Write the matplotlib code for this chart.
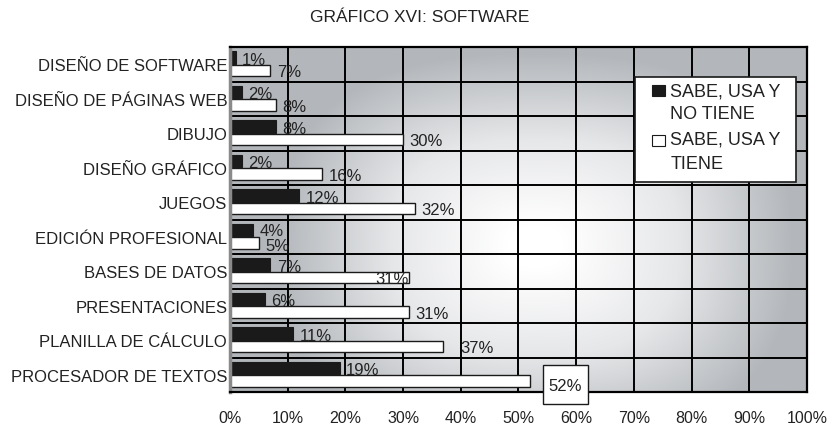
import numpy as np
import matplotlib
matplotlib.use("Agg")
import matplotlib.pyplot as plt
from matplotlib.colors import LinearSegmentedColormap
from matplotlib.patches import Rectangle

plt.rcParams['font.family'] = ['Liberation Sans', 'DejaVu Sans']

title = "GRÁFICO XVI: SOFTWARE"
categories = ["DISEÑO DE SOFTWARE", "DISEÑO DE PÁGINAS WEB", "DIBUJO", "DISEÑO GRÁFICO",
              "JUEGOS", "EDICIÓN PROFESIONAL", "BASES DE DATOS", "PRESENTACIONES",
              "PLANILLA DE CÁLCULO", "PROCESADOR DE TEXTOS"]
no_tiene = [1, 2, 8, 2, 12, 4, 7, 6, 11, 19]
tiene = [7, 8, 30, 16, 32, 5, 31, 31, 37, 52]
series_names = [["SABE, USA Y", "NO TIENE"], ["SABE, USA Y", "TIENE"]]
xticks = list(range(0, 101, 10))
xticklabels = [f"{v}%" for v in xticks]

W, H = 831, 427
fig = plt.figure(figsize=(W / 100, H / 100), dpi=100)
ax = fig.add_axes([230 / W, 1 - 393 / H, (807 - 230) / W, (393 - 48) / H])

n = len(categories)
y = np.arange(n)

# background gradient
gx = np.linspace(0, 100, 400)
gy = np.linspace(-0.5, n - 0.5, 300)
GX, GY = np.meshgrid(gx, gy)
dx = np.abs(GX - 53) / 50.0
dy = np.abs(GY - 5.3) / 6.3
p = 2.6
t = np.clip((dx ** p + dy ** p) ** (1 / p), 0, 1)
t = np.clip(t * 1.25 - 0.12, 0, 1)
cmap = LinearSegmentedColormap.from_list("bg", ["#ffffff", "#e6e7e9", "#b3b7bb"])
ax.imshow(t, extent=[0, 100, n - 0.5, -0.5], aspect='auto', cmap=cmap,
          vmin=0, vmax=1, zorder=0, interpolation='bilinear')

# grid
for xv in xticks:
    ax.axvline(xv, color='black', lw=1.4, zorder=1)
for k in range(n + 1):
    ax.axhline(k - 0.5, color='black', lw=1.4, zorder=1)

bh = 0.36
ax.barh(y - 0.2, no_tiene, height=bh, color='#1a1a1a', edgecolor='#1a1a1a', lw=0.8, zorder=2)
ax.barh(y + 0.18, tiene, height=bh * 0.92, color='white', edgecolor='#1a1a1a', lw=1.0, zorder=2)

fs = 12
tc = '#222222'
for i, v in enumerate(no_tiene):
    dyl = -0.18 if i == 5 else -0.15
    ax.text(v + 1.1, i + dyl, f"{v}%", ha='left', va='center', fontsize=fs, color=tc, zorder=3)
special = {6: dict(dx=-0.1, ha='right'), 8: dict(dx=3.0, ha='left')}
for i, v in enumerate(tiene):
    if i == n - 1:
        ax.add_patch(Rectangle((v + 2.2, i - 0.27), 7.8, 1.12, facecolor='white',
                               edgecolor='#1a1a1a', lw=1.0, zorder=4, clip_on=False))
        ax.text(v + 6.1, i + 0.30, f"{v}%", ha='center', va='center', fontsize=fs, color=tc,
                zorder=5, clip_on=False)
        continue
    s = special.get(i, dict(dx=1.1, ha='left'))
    dyl = 0.25 if i == 5 else 0.22
    ax.text(v + s['dx'], i + dyl, f"{v}%", ha=s['ha'], va='center', fontsize=fs, color=tc, zorder=3)

ax.set_xlim(0, 100)
ax.set_ylim(n - 0.5, -0.5)
ax.set_yticks(y)
ax.set_yticklabels(categories, fontsize=fs, color=tc)
ax.set_xticks(xticks)
ax.set_xticklabels(xticklabels, fontsize=11.5, color=tc)
ax.tick_params(axis='both', length=0)
ax.tick_params(axis='x', pad=13)
ax.tick_params(axis='y', pad=2)
for s in ['top', 'right', 'bottom']:
    ax.spines[s].set_color('black')
    ax.spines[s].set_linewidth(1.6)
ax.spines['left'].set_color('#8a8a8a')
ax.spines['left'].set_linewidth(2.5)

# legend box
ax.add_patch(Rectangle((70.2, 0.37), 27.9, 3.04, facecolor='white', edgecolor='#1a1a1a',
                       lw=1.2, zorder=5))
ax.add_patch(Rectangle((73.2, 0.59), 2.2, 0.34, facecolor='#1a1a1a', edgecolor='#1a1a1a',
                       lw=0.8, zorder=6))
ax.add_patch(Rectangle((73.2, 2.04), 2.2, 0.34, facecolor='white', edgecolor='#1a1a1a',
                       lw=0.8, zorder=6))
line_y = [[0.77, 1.42], [2.18, 2.88]]
for names, ys in zip(series_names, line_y):
    for txt, yy in zip(names, ys):
        ax.text(76.3, yy, txt, ha='left', va='center', fontsize=13, color=tc, zorder=6)

fig.text(420 / W, 1 - 17 / H, title, ha='center', va='center', fontsize=12.5, color=tc)

fig.savefig("out.png", dpi=100)
